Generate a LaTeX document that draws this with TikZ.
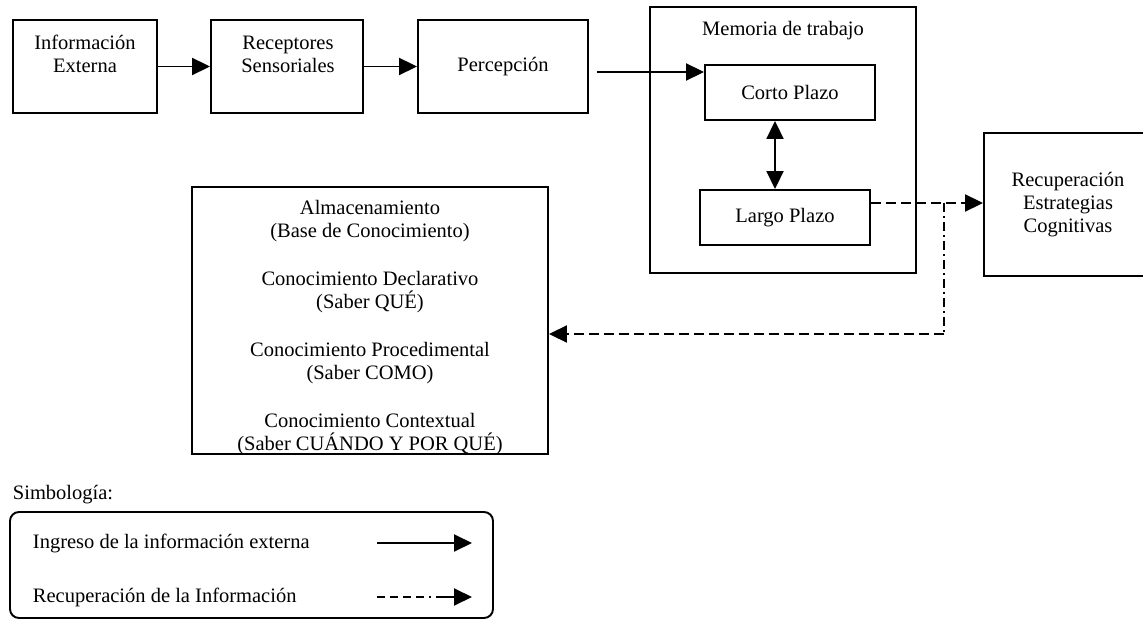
\documentclass[tikz,border=0pt]{standalone}
\usepackage{fontspec}
\setmainfont{Liberation Serif}
\usetikzlibrary{arrows.meta}
\newcommand*{\DiagFont}{\fontsize{20.5}{23}\selectfont}

\begin{document}
\begin{tikzpicture}[x=1pt, y=-1pt, line width=1.9pt,
    >={Triangle[length=18pt,width=17pt]},
    blk/.style={draw, rectangle, align=center, font=\DiagFont, inner sep=0pt},
    txt/.style={align=center, font=\DiagFont, inner sep=0pt},
    dsh/.style={dash pattern=on 10pt off 5pt},
    dshdot/.style={dash pattern=on 9pt off 4pt on 2pt off 4pt},
    legdsh/.style={dash pattern=on 8pt off 5pt on 8pt off 5pt on 8pt off 5pt on 8pt off 5pt on 2pt off 5pt on 40pt}]
    \clip (0,0) rectangle (1143,620);

    \node[blk, minimum width=144, minimum height=93] (info) at (85,66.5) {};
    \node[txt] (infotxt) at (85,54) {Información\\Externa};
    \node[blk, minimum width=152, minimum height=93] (recep) at (287,66.5) {};
    \node[txt] (receptxt) at (288,54) {Receptores\\Sensoriales};
    \node[blk, minimum width=170, minimum height=93] (perc) at (503,66.5) {Percepción};

    \node[blk, minimum width=266, minimum height=266] (memoria) at (783,140) {};
    \node[txt] (memtit) at (783,31) {Memoria de trabajo};
    \node[blk, minimum width=170, minimum height=55] (corto) at (790,92.5) {Corto Plazo};
    \node[blk, minimum width=170, minimum height=55] (largo) at (785,217.5) {Largo Plazo};

    \node[blk, minimum width=168, minimum height=143] (recup) at (1068,204.5) {Recuperación\\Estrategias\\Cognitivas};

    \node[blk, minimum width=356, minimum height=267] (almacen) at (370,320.5) {};
    \node[txt] (almatxt) at (370,328) {Almacenamiento\\(Base de Conocimiento)\\[25pt]
        Conocimiento Declarativo\\(Saber QUÉ)\\[25pt]
        Conocimiento Procedimental\\(Saber COMO)\\[25pt]
        Conocimiento Contextual\\(Saber CUÁNDO Y POR QUÉ)};

    \draw[->] (info.east) -- (recep.west);
    \draw[->] (recep.east) -- (perc.west);
    \coordinate (pout) at (597,72);
    \draw[->] (pout) -- (pout -| corto.west);
    \draw[<->] ([xshift=-15pt]corto.south) -- ([xshift=-10pt]largo.north);

    \coordinate (split) at (944,203);
    \coordinate (turn) at (944,334);
    \draw[->, dsh] ([yshift=14.5pt]largo.east) -- (split) -- (split -| recup.west);
    \draw[dshdot] (split) -- (turn);
    \draw[->, dsh] (turn) -- (turn -| almacen.east);

    \node[txt, anchor=west] (simb) at (12,495) {Simbología:};
    \node[draw, rounded corners=9pt, minimum width=483, minimum height=106, inner sep=0pt] (legend) at (251.5,565) {};
    \foreach \y/\nm/\lbl/\sty in {543/legin/{Ingreso de la información externa}/solid,
                                  597/legrec/{Recuperación de la Información}/legdsh} {
        \node[txt, anchor=west] (\nm) at (32,\y) {\lbl};
        \coordinate (\nm a) at (377,\y);
        \coordinate (\nm b) at (472,\y);
        \draw[->, \sty] (\nm a) -- (\nm b);
    }
\end{tikzpicture}
\end{document}
